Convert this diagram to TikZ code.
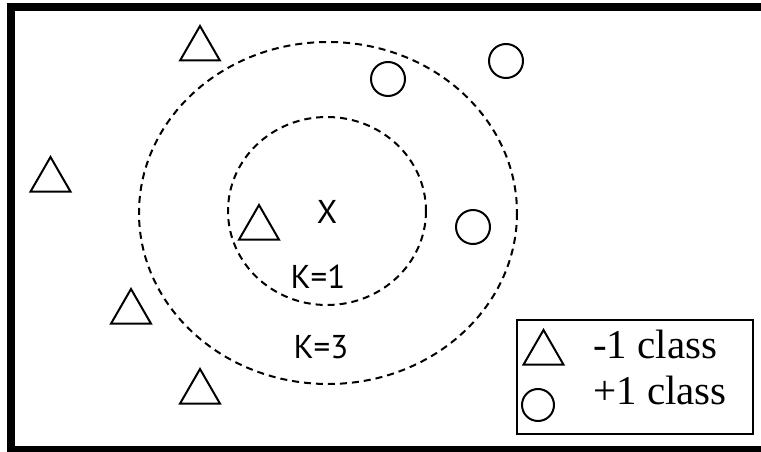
\documentclass[tikz,border=0pt]{standalone}
\usepackage{fontspec}
\usetikzlibrary{shapes.geometric}
\newfontfamily\lblfont{PT Sans}
\newfontfamily\legfont{Liberation Serif}
\begin{document}
\begin{tikzpicture}[x=1pt,y=-1pt,
  tri/.style={draw, line width=2pt, regular polygon, regular polygon sides=3,
              minimum size=46pt, inner sep=0pt},
  dot/.style={draw, line width=2pt, circle, minimum size=34pt, inner sep=0pt},
  ring/.style={draw, line width=2pt, dash pattern=on 7pt off 5pt},
  klabel/.style={font=\lblfont\fontsize{33}{33}\selectfont, inner sep=0pt, anchor=base},
  legtext/.style={font=\legfont\fontsize{41}{41}\selectfont, inner sep=0pt, anchor=base west}]
  \useasboundingbox (0,0) rectangle (761,452);
  % frame
  \fill[black] (7,3) rectangle (761,11);
  \fill[black] (7,3) rectangle (15,452);
  \fill[black] (7,446) rectangle (761,452);
  % neighbourhoods
  \draw[ring] (328,213) ellipse [x radius=189, y radius=171];
  \draw[ring] (327,211) ellipse [x radius=99, y radius=94];
  % -1 class samples
  \node[tri] (t1) at (200,49) {};
  \node[tri] (t2) at (50.5,180) {};
  \node[tri] (t3) at (259,228) {};
  \node[tri] (t4) at (131,312) {};
  \node[tri] (t5) at (200,392) {};
  % +1 class samples
  \node[dot] (c1) at (388,79) {};
  \node[dot] (c2) at (506,61) {};
  \node[dot] (c3) at (473,227) {};
  % query point and radii labels
  \node[klabel] (qx) at (327,223) {X};
  \node[klabel] (k1) at (318,288) {K=1};
  \node[klabel] (k3) at (321,358) {K=3};
  % legend
  \draw[line width=1.5pt] (517,320) rectangle (753,434);
  \node[tri] (lt) at (543.5,353) {};
  \node[dot, minimum size=32pt] (lc) at (538,405) {};
  \node[legtext] (l1) at (593,358) {-1 class};
  \node[legtext] (l2) at (593,404) {+1 class};
\end{tikzpicture}
\end{document}
